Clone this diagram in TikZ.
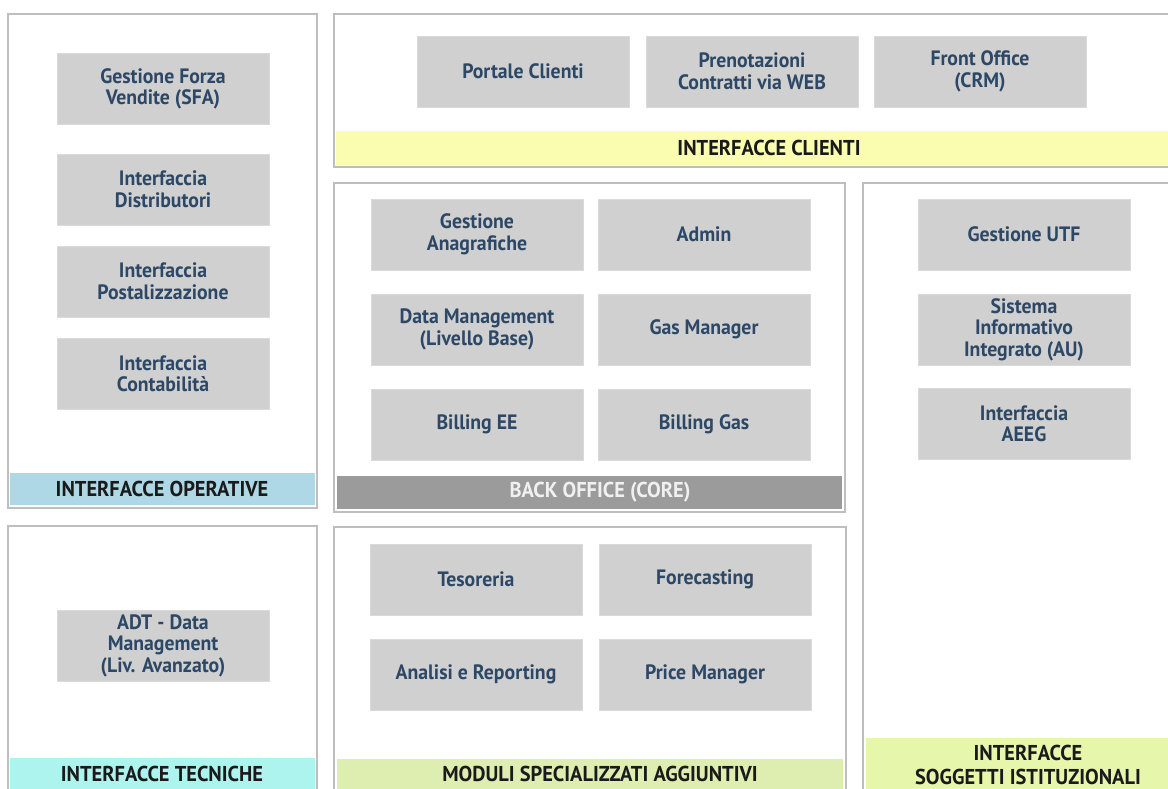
\documentclass[tikz,border=0pt]{standalone}
\usepackage{fontspec}
\setmainfont[FakeStretch=0.95]{PT Sans}
\definecolor{panelgray}{RGB}{190,190,190}
\definecolor{boxgray}{RGB}{208,208,208}
\definecolor{boxedge}{RGB}{218,218,218}
\definecolor{navy}{RGB}{44,72,102}
\definecolor{labeltext}{RGB}{26,26,26}
\definecolor{opblue}{RGB}{174,216,230}
\definecolor{tecn}{RGB}{174,244,238}
\definecolor{cliyel}{RGB}{250,252,176}
\definecolor{bogray}{RGB}{155,155,155}
\definecolor{bowhite}{RGB}{240,240,240}
\definecolor{modgreen}{RGB}{221,238,176}
\definecolor{istgreen}{RGB}{230,247,172}
\begin{document}
\begin{tikzpicture}[x=1pt,y=-1pt,
  panel/.style={draw=panelgray,line width=1.2pt,fill=white},
  modbox/.style={fill=boxgray,draw=boxedge,line width=0.5pt,minimum width=212pt,minimum height=71pt,inner sep=0pt,align=center,text=navy,font=\fontsize{20.8}{21.5}\selectfont\bfseries},
  lbl/.style={text=labeltext,font=\fontsize{21.5}{24}\selectfont\bfseries,align=center,inner sep=0pt}]
\useasboundingbox (0,0) rectangle (1168,789);
\clip (0,0) rectangle (1168,789);
\fill[white] (0,0) rectangle (1168,789);

% panels and bars
\draw[panel] (8,14) rectangle (317,508);
\fill[opblue] (10,473) rectangle (315,505);
\node[lbl] (lop) at (162,489) {INTERFACCE OPERATIVE};

\draw[panel] (8,526) rectangle (317,800);
\fill[tecn] (10,758) rectangle (315,800);
\node[lbl] (lte) at (162,774) {INTERFACCE TECNICHE};

\draw[panel] (334,14) rectangle (1180,167);
\fill[cliyel] (336,131) rectangle (1180,165);
\node[lbl] (lcl) at (769,148) {INTERFACCE CLIENTI};

\draw[panel] (334,183) rectangle (845,512);
\fill[bogray] (337,476) rectangle (842,509);
\node[lbl,text=bowhite] (lbo) at (600,492) {BACK OFFICE (CORE)};

\draw[panel] (334,527) rectangle (846,800);
\fill[modgreen] (337,759) rectangle (843,800);
\node[lbl] (lmo) at (600,774) {MODULI SPECIALIZZATI AGGIUNTIVI};

\draw[panel] (863,183) rectangle (1180,800);
\fill[istgreen] (866,738) rectangle (1180,800);
\node[lbl] (lis) at (1028,765) {INTERFACCE\\SOGGETTI ISTITUZIONALI};

% left column
\node[modbox] (sfa) at (163,89) {Gestione Forza\\Vendite (SFA)};
\node[modbox] (dist) at (163,189.5) {Interfaccia\\Distributori};
\node[modbox] (post) at (163,281.5) {Interfaccia\\Postalizzazione};
\node[modbox] (cont) at (163,373.5) {Interfaccia\\Contabilità};
\node[modbox] (adt) at (163,645.5) {ADT - Data\\Management\\(Liv. Avanzato)};

% top row
\node[modbox] (port) at (523,71.5) {Portale Clienti};
\node[modbox] (pren) at (752,71.5) {Prenotazioni\\Contratti via WEB};
\node[modbox] (front) at (980,71.5) {Front Office\\(CRM)};

% back office
\node[modbox] (anag) at (477,234.5) {Gestione\\Anagrafiche};
\node[modbox] (admin) at (704,234.5) {Admin};
\node[modbox] (dm) at (477,329.5) {Data Management\\(Livello Base)};
\node[modbox] (gas) at (704,329.5) {Gas Manager};
\node[modbox] (bee) at (477,424.5) {Billing EE};
\node[modbox] (bgas) at (704,424.5) {Billing Gas};

% moduli
\node[modbox] (tes) at (476,579.5) {Tesoreria};
\node[modbox] (fore) at (705,579.5) {Forecasting};
\node[modbox] (ana) at (476,674.5) {Analisi e Reporting};
\node[modbox] (price) at (705,674.5) {Price Manager};

% right column
\node[modbox] (utf) at (1024,234.5) {Gestione UTF};
\node[modbox] (sii) at (1024,329.5) {Sistema\\Informativo\\Integrato (AU)};
\node[modbox] (aeeg) at (1024,423.5) {Interfaccia\\AEEG};
\end{tikzpicture}
\end{document}
